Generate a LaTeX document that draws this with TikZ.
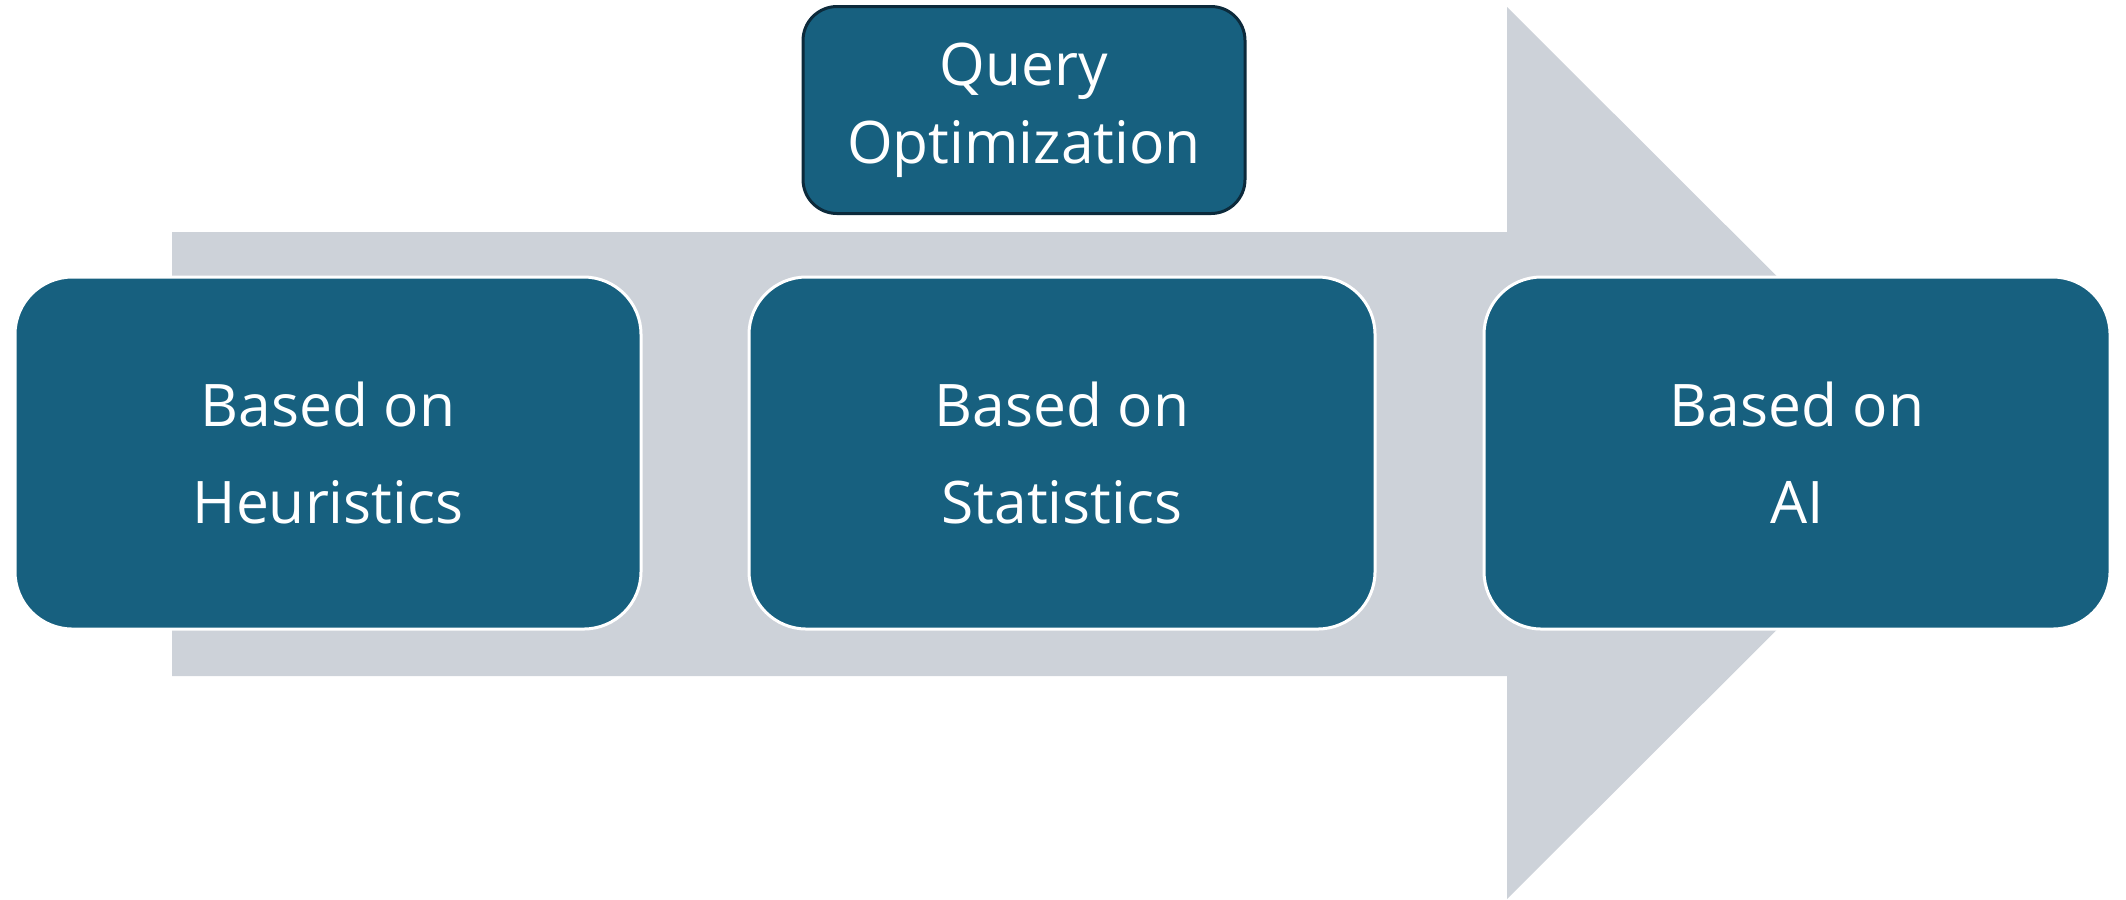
\documentclass[tikz,border=0pt]{standalone}
\usepackage{fontspec}
\setmainfont{Open Sans}
\definecolor{boxblue}{HTML}{17607F}
\definecolor{shaftgray}{HTML}{CDD2D9}
\definecolor{darkedge}{HTML}{0C2A3B}
\tikzset{
  stagebox/.style={draw=white, line width=0.9pt, fill=boxblue, rounded corners=17.2pt,
    minimum width=187.8pt, minimum height=105.6pt, inner sep=0pt,
    text=white, align=center, font=\fontsize{17.6}{29.1}\selectfont},
  titlebox/.style={draw=darkedge, line width=0.9pt, fill=boxblue, rounded corners=10.2pt,
    minimum width=132.6pt, minimum height=62.1pt, inner sep=0pt,
    text=white, align=center, font=\fontsize{17.6}{23.3}\selectfont}
}
\begin{document}
\begin{tikzpicture}[x=0.3pt, y=-0.3pt]
  \useasboundingbox (0,0) rectangle (2126,899);
  % big background arrow
  \fill[shaftgray] (172,232) -- (1507,232) -- (1507,7) -- (1954,453)
    -- (1507,899) -- (1507,676) -- (172,676) -- cycle;
  % stages
  \node[stagebox] (heur) at (328,453) {Based on\\Heuristics};
  \node[stagebox] (stat) at (1062,453) {Based on\\Statistics};
  \node[stagebox] (ai)   at (1797,453) {Based on\\AI};
  % title
  \node[titlebox] (title) at (1024,110) {Query\\Optimization};
\end{tikzpicture}
\end{document}
